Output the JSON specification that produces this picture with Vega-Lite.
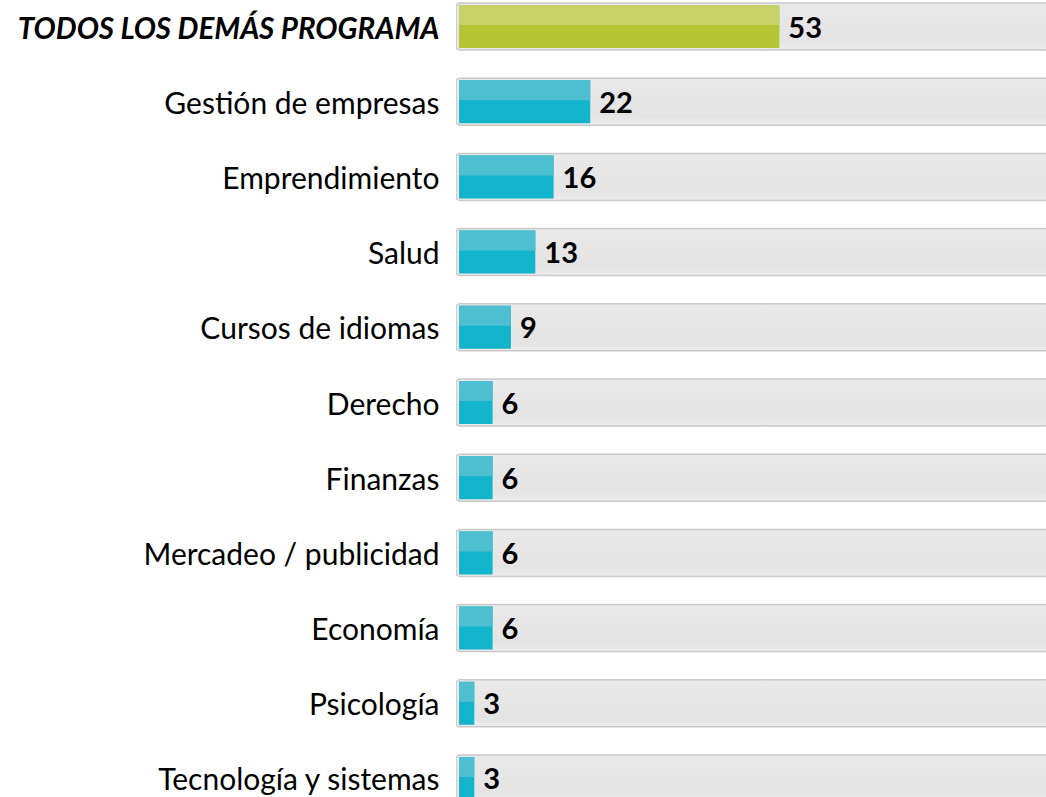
{
  "$schema": "https://vega.github.io/schema/vega-lite/v6.json",
  "width": 590,
  "height": 805,
  "autosize": {"type": "none"},
  "padding": {"left": 456, "top": 0, "right": 0, "bottom": 0},
  "background": "white",
  "config": {"view": {"stroke": null}},
  "data": {
    "values": [
      {"programa": "TODOS LOS DEMÁS PROGRAMA", "valor": 53, "grupo": "total"},
      {"programa": "Gestión de empresas", "valor": 22, "grupo": "programa"},
      {"programa": "Emprendimiento", "valor": 16, "grupo": "programa"},
      {"programa": "Salud", "valor": 13, "grupo": "programa"},
      {"programa": "Cursos de idiomas", "valor": 9, "grupo": "programa"},
      {"programa": "Derecho", "valor": 6, "grupo": "programa"},
      {"programa": "Finanzas", "valor": 6, "grupo": "programa"},
      {"programa": "Mercadeo / publicidad", "valor": 6, "grupo": "programa"},
      {"programa": "Economía", "valor": 6, "grupo": "programa"},
      {"programa": "Psicología", "valor": 3, "grupo": "programa"},
      {"programa": "Tecnología y sistemas", "valor": 3, "grupo": "programa"}
    ]
  },
  "encoding": {
    "y": {
      "field": "programa",
      "type": "nominal",
      "sort": null,
      "scale": {"paddingInner": 0.375, "paddingOuter": 0.04},
      "axis": {
        "title": null,
        "domain": false,
        "ticks": false,
        "labelPadding": 17,
        "labelOffset": 3,
        "labelFont": "Lato",
        "labelFontSize": {"condition": {"test": "datum.value == 'TODOS LOS DEMÁS PROGRAMA'", "value": 29.5}, "value": 30},
        "labelColor": "#000000",
        "labelLimit": 450,
        "labelFontWeight": {"condition": {"test": "datum.value == 'TODOS LOS DEMÁS PROGRAMA'", "value": "bold"}, "value": "normal"},
        "labelFontStyle": {"condition": {"test": "datum.value == 'TODOS LOS DEMÁS PROGRAMA'", "value": "italic"}, "value": "normal"}
      }
    }
  },
  "layer": [
    {
      "mark": {
        "type": "bar",
        "clip": true,
        "cornerRadius": 4,
        "stroke": "#c9c9c9",
        "strokeWidth": 1.5,
        "fill": {"gradient": "linear", "x1": 0, "y1": 0, "x2": 0, "y2": 1, "stops": [{"offset": 0, "color": "#e9e9e9"}, {"offset": 0.8, "color": "#e4e4e4"}, {"offset": 1, "color": "#ececec"}]}
      },
      "encoding": {
        "x": {"datum": 0, "type": "quantitative", "scale": {"domain": [0, 96.7], "nice": false, "zero": true}, "axis": null},
        "x2": {"datum": 110}
      }
    },
    {
      "mark": {"type": "bar", "height": {"band": 0.915}, "cornerRadius": 0},
      "encoding": {
        "x": {"field": "valor", "type": "quantitative"},
        "x2": {"datum": 0.5},
        "color": {"condition": {"test": "datum.grupo == 'total'", "value": "#b6c533"}, "value": "#12b5cb"}
      }
    },
    {
      "mark": {"type": "bar", "height": 20, "yOffset": -11.5},
      "encoding": {
        "x": {"field": "valor", "type": "quantitative"},
        "x2": {"datum": 0.5},
        "color": {"condition": {"test": "datum.grupo == 'total'", "value": "#c6d16a"}, "value": "#4ebfd0"}
      }
    },
    {
      "mark": {"type": "text", "align": "left", "baseline": "middle", "dx": 9, "dy": 2, "font": "Lato", "fontSize": 29, "fontWeight": "bold", "color": "#000000"},
      "encoding": {
        "x": {"field": "valor", "type": "quantitative"},
        "text": {"field": "valor", "type": "quantitative"}
      }
    }
  ]
}
